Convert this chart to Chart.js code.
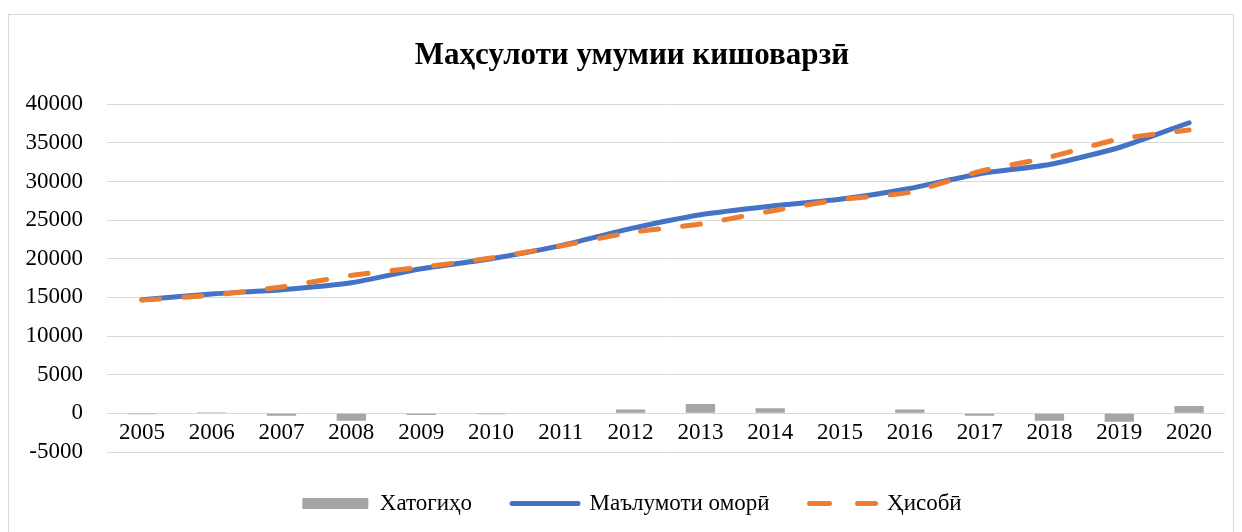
<!DOCTYPE html>
<html>
<head>
<meta charset="utf-8">
<script src="https://cdn.jsdelivr.net/npm/chart.js@4.4.1/dist/chart.umd.min.js"></script>
<style>
  html, body { margin: 0; padding: 0; background: #fff; }
  #wrap { position: relative; width: 1242px; height: 532px; overflow: hidden; }
  #frame { position: absolute; left: 8px; top: 14px; width: 1226px; height: 540px; border: 1px solid #d9d9d9; box-sizing: border-box; }
  #chart { position: absolute; left: 0; top: 0; }
</style>
</head>
<body>
<div id="wrap">
  <div id="frame"></div>
  <canvas id="chart" width="1242" height="532"></canvas>
</div>
<script>
const years = ["2005", "2006", "2007", "2008", "2009", "2010", "2011", "2012", "2013", "2014", "2015", "2016", "2017", "2018", "2019", "2020"]
const errors = [-100, 150, -300, -950, -200, -100, 0, 500, 1200, 650, 0, 500, -300, -950, -1100, 950]
const actual = [14700, 15450, 16000, 16900, 18700, 20000, 21700, 23900, 25700, 26800, 27700, 29100, 31000, 32200, 34400, 37600]
const calculated = [14650, 15300, 16350, 17850, 18900, 20100, 21650, 23400, 24500, 26150, 27650, 28600, 31300, 33150, 35500, 36650]
const yTicks = { min: -5000, max: 40000, step: 5000 }

const serif = "'Liberation Serif', 'Times New Roman', serif"
const gridColor = "#d9d9d9"
const legendDash = [20, 28, 40, 28] // symmetric so the closed 'line' path shows two dashes

const ctx = document.getElementById("chart").getContext("2d")
new Chart(ctx, {
  type: "bar",
  data: {
    labels: years,
    datasets: [
      {
        label: "Хатогиҳо",
        data: errors,
        backgroundColor: "#a5a5a5",
        barPercentage: 0.42,
        categoryPercentage: 1.0,
        order: 3,
      },
      {
        type: "line",
        label: "Маълумоти оморӣ",
        data: actual,
        borderColor: "#4472c4",
        borderWidth: 5,
        borderCapStyle: "round",
        pointRadius: 0,
        tension: 0.2,
        order: 2,
      },
      {
        type: "line",
        label: "Ҳисобӣ",
        data: calculated,
        borderColor: "#ed7d31",
        borderWidth: 5,
        borderDash: [18, 24],
        borderCapStyle: "round",
        pointRadius: 0,
        tension: 0.2,
        order: 1,
      },
    ],
  },
  options: {
    responsive: false,
    animation: false,
    layout: { padding: { left: 22, right: 0, top: 0, bottom: 7 } },
    plugins: {
      title: {
        display: true,
        text: "Маҳсулоти умумии кишоварзӣ",
        color: "#000",
        font: { family: serif, size: 31, weight: "bold" },
        padding: { top: 37, bottom: 30 },
      },
      legend: {
        position: "bottom",
        labels: {
          color: "#000",
          font: { family: serif, size: 23 },
          boxHeight: 11,
          padding: 40,
          usePointStyle: true,
          pointStyleWidth: 66,
          generateLabels: function (chart) {
            return chart.data.datasets.map((ds, i) => ({
              text: ds.label,
              datasetIndex: i,
              fillStyle: ds.type === "line" ? "transparent" : ds.backgroundColor,
              strokeStyle: ds.type === "line" ? ds.borderColor : ds.backgroundColor,
              lineWidth: ds.type === "line" ? 5 : 0,
              lineDash: ds.borderDash ? legendDash : [],
              lineCap: "round",
              pointStyle: ds.type === "line" ? "line" : "rect",
              fontColor: "#000",
            }))
          },
        },
      },
      tooltip: { enabled: false },
    },
    scales: {
      x: {
        position: { y: 0 },
        grid: { display: false, drawTicks: false },
        border: { display: true, color: gridColor, width: 1 },
        ticks: { color: "#000", font: { family: serif, size: 23 }, padding: 6, maxRotation: 0 },
        afterFit: function (scale) {
          scale.height = 26
        },
      },
      y: {
        min: yTicks.min,
        max: yTicks.max,
        grid: { color: gridColor, drawTicks: false },
        border: { display: false },
        ticks: {
          stepSize: yTicks.step,
          color: "#000",
          font: { family: serif, size: 23 },
          padding: 24,
          callback: (v) => String(v),
        },
        afterFit: function (scale) {
          scale.width = 85
        },
      },
      // empty right axis, only to keep the plot edge where the reference has it
      yRight: {
        position: "right",
        grid: { display: false },
        border: { display: false },
        ticks: { display: false },
        afterFit: function (scale) {
          scale.width = 18
        },
      },
    },
  },
})
</script>
</body>
</html>
